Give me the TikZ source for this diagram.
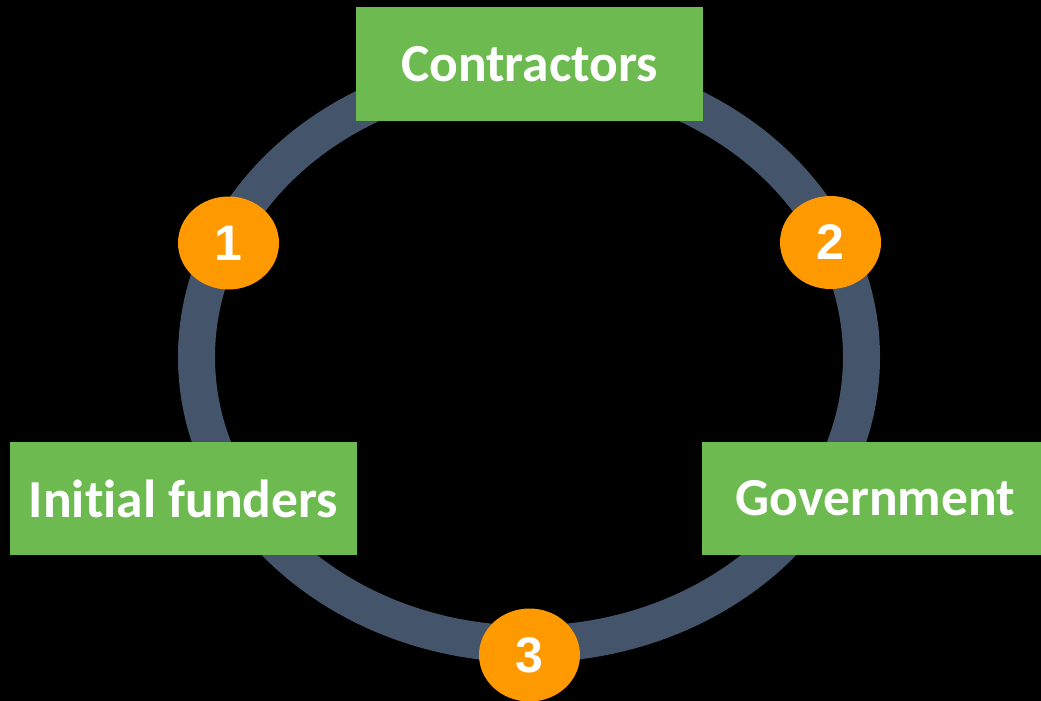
\documentclass[tikz,border=0pt]{standalone}
\usepackage{fontspec}
\setmainfont[Ligatures=CommonOff]{Carlito}
\newfontfamily\numfont{Liberation Sans}
\usetikzlibrary{shapes.geometric}
\definecolor{boxgreen}{RGB}{109,187,80}
\definecolor{ringblue}{RGB}{68,84,106}
\definecolor{numorange}{RGB}{255,153,0}
\tikzset{
  party/.style={fill=boxgreen,text=white,minimum width=347pt,minimum height=113pt,
    inner sep=0pt,font=\fontsize{53.5}{58}\selectfont\bfseries},
  stepnum/.style={ellipse,fill=numorange,text=white,minimum width=101pt,minimum height=93pt,
    inner sep=0pt,font=\numfont\fontsize{50}{55}\selectfont\bfseries}
}
\begin{document}
\begin{tikzpicture}[x=1pt,y=-1pt]
    \fill[black] (0,0) rectangle (1041,701);
    \useasboundingbox (0,0) rectangle (1041,701);
    \clip (0,0) rectangle (1041,701);
    \draw[ringblue,line width=37pt] (529,357)
    ellipse [x radius=332.5,y radius=287];
    \node[party] (contractors) at (529.5,64) {Contractors};
    \node[party] (funders) at (183.5,498.5) {Initial funders};
    \node[party] (government) at (875.5,498.5) {Government};
    \node[stepnum] (one) at (228.5,243) {1};
    \node[stepnum] (two) at (830.5,242.5) {2};
    \node[stepnum] (three) at (529.5,655) {3};
\end{tikzpicture}
\end{document}
